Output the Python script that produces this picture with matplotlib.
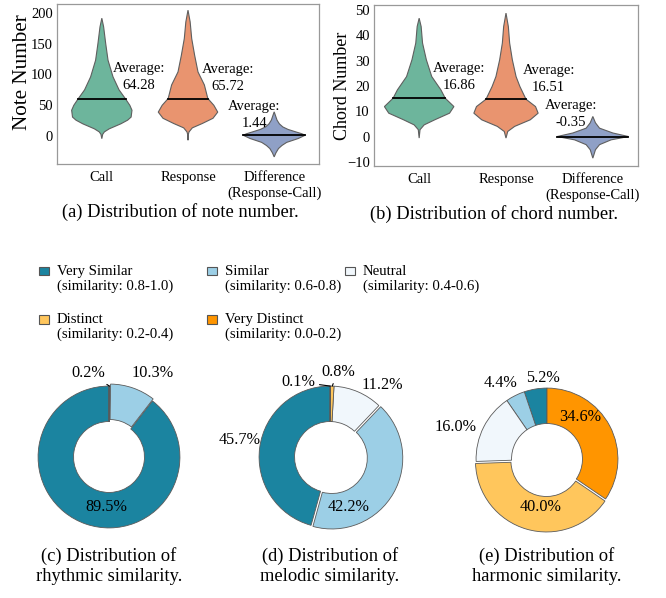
import matplotlib
matplotlib.use('Agg')
import matplotlib.pyplot as plt
from matplotlib.patches import Patch, Rectangle
from matplotlib.legend_handler import HandlerPatch
import numpy as np

plt.rcParams['font.family'] = ['Liberation Serif', 'DejaVu Serif']

W, H = 666, 598

# ---- violin data (outline: value, half width) ----
groups = ['Call', 'Response', 'Difference\n(Response-Call)']
violin_colors = ['#6db59c', '#e9946f', '#8fa0c6']

note_call_y = [-4, 3, 7, 12, 20, 26, 31, 42, 50, 60, 75, 96, 123, 150, 177, 191]
note_call_w = [0, 0.01, 0.03, 0.087, 0.22, 0.30, 0.34, 0.35, 0.325, 0.277, 0.20, 0.13, 0.072, 0.045, 0.021, 0]
note_resp_y = [-6.5, 3, 7, 13.5, 20.5, 29, 39, 50, 61, 72, 83, 104, 131, 158, 185, 204]
note_resp_w = [0, 0.004, 0.012, 0.05, 0.165, 0.29, 0.345, 0.30, 0.23, 0.21, 0.19, 0.116, 0.077, 0.043, 0.025, 0]
note_diff_y = [-33.5, -27, -20, -15, -10, -3.7, 1.6, 4, 7, 11, 15, 20, 26, 39.4]
note_diff_w = [0, 0.02, 0.05, 0.09, 0.145, 0.28, 0.36, 0.32, 0.25, 0.16, 0.10, 0.06, 0.033, 0]
note_medians = [59.5, 61, 1.5]
note_avg = [64.28, 65.72, 1.44]

chord_call_y = [-0.5, 2.8, 4.7, 6.7, 9.3, 11.9, 15.2, 18.5, 23.7, 30.3, 36.9, 43.4, 46.7]
chord_call_w = [0, 0.01, 0.058, 0.18, 0.35, 0.40, 0.30, 0.25, 0.145, 0.083, 0.039, 0.023, 0]
chord_resp_y = [-0.5, 2.1, 4.1, 6.7, 9.3, 11.9, 14.8, 19.8, 23.7, 30.3, 36.9, 43.4, 48.7]
chord_resp_w = [0, 0.02, 0.10, 0.28, 0.37, 0.34, 0.23, 0.16, 0.116, 0.073, 0.042, 0.027, 0]
chord_diff_y = [-8.4, -5.1, -3.1, -1.2, 0.1, 1.5, 3.4, 5.5, 8]
chord_diff_w = [0, 0.03, 0.077, 0.21, 0.41, 0.23, 0.077, 0.03, 0]
chord_medians = [15.2, 14.8, 0.1]
chord_avg = [16.86, 16.51, -0.35]

# ---- similarity donuts ----
sim_names = ['Very Similar', 'Similar', 'Neutral', 'Distinct', 'Very Distinct']
sim_ranges = ['0.8-1.0', '0.6-0.8', '0.4-0.6', '0.2-0.4', '0.0-0.2']
sim_colors = ['#1b84a0', '#9ccfe6', '#f1f7fc', '#ffc65c', '#ff9500']
rhythm = [89.5, 10.3, 0.2, 0.0, 0.0]
melody = [45.7, 42.2, 11.2, 0.8, 0.1]
harmony = [5.2, 4.4, 16.0, 40.0, 34.6]


def px_axes(fig, left, top, right, bottom):
    return fig.add_axes([left / W, 1 - bottom / H, (right - left) / W, (bottom - top) / H])


def draw_violin(ax, pos, ys, ws, median, color):
    ys = np.asarray(ys, float)
    ws = np.asarray(ws, float)
    xs = np.concatenate([pos - ws, (pos + ws)[::-1]])
    yy = np.concatenate([ys, ys[::-1]])
    ax.fill(xs, yy, facecolor=color, edgecolor='#5f5f5f', linewidth=0.8)
    w = np.interp(median, ys, ws)
    ax.plot([pos - w, pos + w], [median, median], color='black', lw=1.3)


def style_violin_axes(ax, ylim, yticks, ylabel, ylabel_size, label_xy):
    ax.set_xlim(-0.52, 2.52)
    ax.set_ylim(*ylim)
    ax.set_yticks(yticks)
    ax.set_xticks(range(3))
    ax.set_xticklabels(groups, fontsize=10.5, linespacing=1.25)
    ax.tick_params(axis='x', length=0, labelsize=10.5, pad=5)
    ax.tick_params(axis='y', length=0, labelsize=10.5, pad=3)
    ax.set_ylabel(ylabel, fontsize=ylabel_size)
    ax.yaxis.set_label_coords(*label_xy)
    for s in ax.spines.values():
        s.set_color('#999999')
        s.set_linewidth(0.9)


def draw_donut(ax, vals, explode, layout, leaders):
    wedges, _ = ax.pie(vals, colors=sim_colors, startangle=90, counterclock=True,
                       explode=explode, radius=1,
                       wedgeprops=dict(width=0.5, edgecolor='#5a5a5a', linewidth=0.6))
    for i, w in enumerate(wedges):
        if vals[i] == 0 or layout[i] is None:
            continue
        mid = (w.theta1 + w.theta2) / 2
        dth, r = layout[i]
        a = np.deg2rad(mid + dth)
        tx, ty = r * np.cos(a), r * np.sin(a)
        txt = f'{vals[i]:.1f}%'
        if i in leaders:
            m = np.deg2rad(mid)
            ax.annotate(txt, xy=(np.cos(m), np.sin(m)), xytext=(tx, ty),
                        ha='center', va='center', fontsize=11.7,
                        arrowprops=dict(arrowstyle='-', color='black', lw=0.8,
                                        shrinkA=1, shrinkB=0))
        else:
            ax.text(tx, ty, txt, ha='center', va='center', fontsize=11.7)
    ax.set_xlim(-1.41, 1.41)
    ax.set_ylim(-1.41, 1.41)
    ax.set_aspect('equal')
    ax.axis('off')


def first_line_box(legend, orig_handle, xdescent, ydescent, width, height, fontsize):
    # lift the square so it sits beside the first line of a two-line label
    return Rectangle((-xdescent, -ydescent + 0.5 * fontsize), width, height)


fig = plt.figure(figsize=(W / 100, H / 100), dpi=100)

# (a) note number
ax1 = px_axes(fig, 57, 4, 319, 164)
note_profiles = [(note_call_y, note_call_w), (note_resp_y, note_resp_w), (note_diff_y, note_diff_w)]
for i, (ys, ws) in enumerate(note_profiles):
    draw_violin(ax1, i, ys, ws, note_medians[i], violin_colors[i])
note_txt_pos = [(0.43, 96), (1.46, 95), (1.77, 35)]
for (x, y), v in zip(note_txt_pos, note_avg):
    ax1.text(x, y, f'Average:\n{v:.2f}', ha='center', va='center', fontsize=10.5, linespacing=1.4)
style_violin_axes(ax1, (-45, 214), [0, 50, 100, 150, 200], 'Note Number', 15.2, (-0.095, 0.575))

# (b) chord number
ax2 = px_axes(fig, 374, 5, 638, 166)
chord_profiles = [(chord_call_y, chord_call_w), (chord_resp_y, chord_resp_w), (chord_diff_y, chord_diff_w)]
for i, (ys, ws) in enumerate(chord_profiles):
    draw_violin(ax2, i, ys, ws, chord_medians[i], violin_colors[i])
chord_txt_pos = [(0.455, 23.4), (1.49, 22.8), (1.75, 9.0)]
for (x, y), v in zip(chord_txt_pos, chord_avg):
    ax2.text(x, y, f'Average:\n{v:.2f}', ha='center', va='center', fontsize=10.5, linespacing=1.4)
style_violin_axes(ax2, (-11.5, 51.9), list(range(-10, 51, 10)), 'Chord Number', 13, (-0.088, 0.5))

fig.text(180 / W, 1 - 212 / H, '(a) Distribution of note number.', ha='center', va='center', fontsize=13.3)
fig.text(494 / W, 1 - 214 / H, '(b) Distribution of chord number.', ha='center', va='center', fontsize=13.3)

# legend: three columns placed side by side
handles = [Patch(facecolor=c, edgecolor='#555555', linewidth=0.8) for c in sim_colors]
labels = [f'{n}\n(similarity: {r})' for n, r in zip(sim_names, sim_ranges)]
cols = [[0, 3], [1, 4], [2]]
col_x = [39, 207, 345]
for idxs, x0 in zip(cols, col_x):
    leg = fig.legend([handles[i] for i in idxs], [labels[i] for i in idxs],
                     loc='upper left', bbox_to_anchor=(x0 / W, 1 - 265 / H),
                     frameon=False, borderpad=0, borderaxespad=0,
                     handlelength=0.7, handleheight=0.5, handletextpad=0.5,
                     labelspacing=1.4, fontsize=10.6,
                     handler_map={Patch: HandlerPatch(patch_func=first_line_box)})
    for t in leg.get_texts():
        t.set_linespacing(1.12)

# donuts
pie_specs = [
    (109, 457, rhythm, [0, 0.03, 0, 0, 0],
     [(16, 0.70), (-8, 1.33), (14, 1.22), None, None], [2],
     '(c) Distribution of\nrhythmic similarity.'),
    (330, 457, melody, [0, 0.03, 0, 0, 0],
     [(-3, 1.29), (-40, 0.75), (-12.6, 1.25), (-3.5, 1.21), (23, 1.15)], [3, 4],
     '(d) Distribution of\nmelodic similarity.'),
    (547, 459, harmony, [0, 0, 0, 0.03, 0],
     [(-6.4, 1.14), (5, 1.26), (7.6, 1.37), (8, 0.68), (24, 0.75)], [],
     '(e) Distribution of\nharmonic similarity.'),
]
for cx, cy, vals, expl, layout, leaders, cap in pie_specs:
    ax = px_axes(fig, cx - 100, cy - 100, cx + 100, cy + 100)
    draw_donut(ax, vals, expl, layout, leaders)
    fig.text(cx / W, 1 - 566 / H, cap, ha='center', va='center', fontsize=13.3, linespacing=1.25)

fig.savefig('out.png', dpi=100)
